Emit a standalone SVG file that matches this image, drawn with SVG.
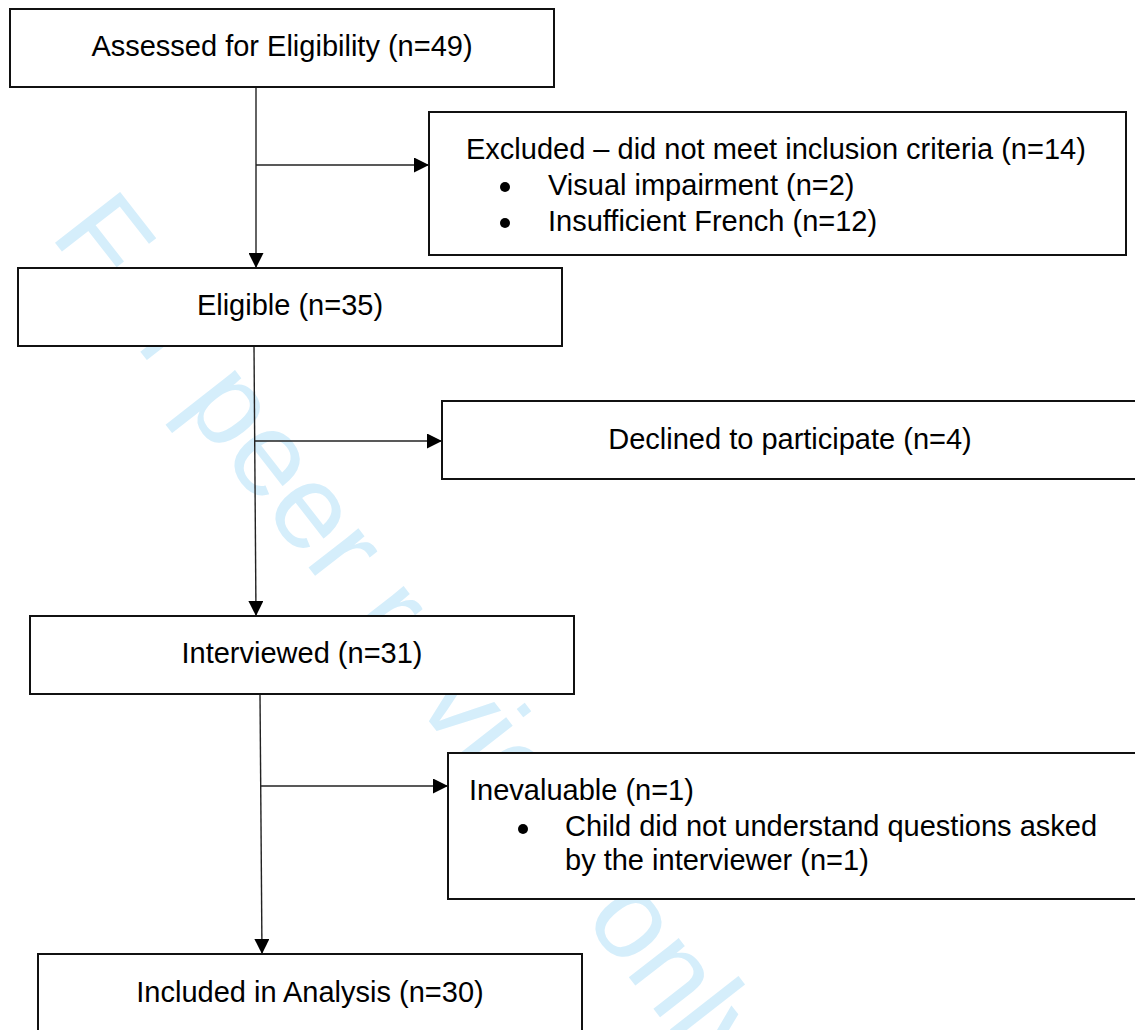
<svg xmlns="http://www.w3.org/2000/svg" width="1135" height="1030" viewBox="0 0 1135 1030">
  <style>
    .box { fill: #ffffff; stroke: #111111; stroke-width: 2; }
    .t { font-family: "Liberation Sans", Arial, sans-serif; font-size: 29px; fill: #000000; }
    .c { text-anchor: middle; }
    .conn { stroke: #222222; stroke-width: 1.4; fill: none; }
    .wm { font-family: "Liberation Sans", Arial, sans-serif; font-size: 120px; fill: #d5eefb; }
  </style>
  <defs>
    <marker id="arrow" markerUnits="userSpaceOnUse" markerWidth="15" markerHeight="15" viewBox="0 0 15 15" refX="15" refY="7.5" orient="auto">
      <path d="M0,0 L15,7.5 L0,15 Z" fill="#000000"/>
    </marker>
  </defs>
  <rect x="0" y="0" width="1135" height="1030" fill="#ffffff"/>

  <text id="watermark" class="wm" x="49" y="235" transform="rotate(52 49 235)">For peer review only</text>

  <g id="connectors">
    <line class="conn" x1="256" y1="87" x2="256" y2="268" marker-end="url(#arrow)"/>
    <line class="conn" x1="256" y1="165" x2="429" y2="165" marker-end="url(#arrow)"/>
    <line class="conn" x1="254" y1="346" x2="256" y2="616" marker-end="url(#arrow)"/>
    <line class="conn" x1="255" y1="441" x2="442" y2="441" marker-end="url(#arrow)"/>
    <line class="conn" x1="260" y1="694" x2="262" y2="954" marker-end="url(#arrow)"/>
    <line class="conn" x1="261" y1="786" x2="448" y2="786" marker-end="url(#arrow)"/>
  </g>

  <g id="assessed">
    <rect class="box" x="10" y="9" width="544" height="78"/>
    <text class="t c" x="282" y="56">Assessed for Eligibility (n=49)</text>
  </g>

  <g id="excluded">
    <rect class="box" x="429" y="112" width="697" height="143"/>
    <text class="t" x="466" y="159">Excluded – did not meet inclusion criteria (n=14)</text>
    <circle cx="505" cy="187" r="5"/>
    <text class="t" x="548" y="195">Visual impairment (n=2)</text>
    <circle cx="505" cy="223" r="5"/>
    <text class="t" x="548" y="231">Insufficient French (n=12)</text>
  </g>

  <g id="eligible">
    <rect class="box" x="18" y="268" width="544" height="78"/>
    <text class="t c" x="290" y="315">Eligible (n=35)</text>
  </g>

  <g id="declined">
    <rect class="box" x="442" y="401" width="698" height="78"/>
    <text class="t c" x="790" y="449">Declined to participate (n=4)</text>
  </g>

  <g id="interviewed">
    <rect class="box" x="30" y="616" width="544" height="78"/>
    <text class="t c" x="302" y="663">Interviewed (n=31)</text>
  </g>

  <g id="inevaluable">
    <rect class="box" x="448" y="753" width="692" height="146"/>
    <text class="t" x="469" y="800">Inevaluable (n=1)</text>
    <circle cx="523" cy="829" r="5"/>
    <text class="t" x="565" y="836">Child did not understand questions asked</text>
    <text class="t" x="565" y="870">by the interviewer (n=1)</text>
  </g>

  <g id="included">
    <rect class="box" x="38" y="954" width="544" height="100"/>
    <text class="t c" x="310" y="1002">Included in Analysis (n=30)</text>
  </g>
</svg>
